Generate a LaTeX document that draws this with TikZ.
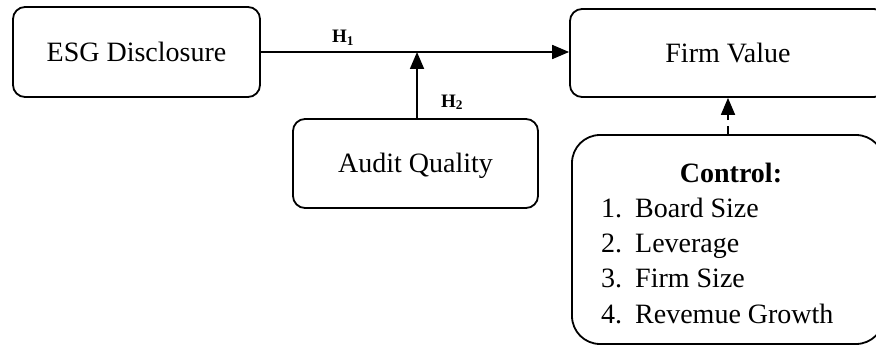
\documentclass[tikz,border=0pt]{standalone}
\usepackage{fontspec}
\setmainfont{Liberation Serif}
\usetikzlibrary{arrows.meta}
\begin{document}
\begin{tikzpicture}[x=1pt,y=-1pt,
  box/.style={draw, line width=1.8pt, rounded corners=12pt, inner sep=0pt},
  lbl/.style={font=\fontsize{28}{36}\selectfont, inner sep=0pt},
  hlbl/.style={font=\fontsize{19}{22}\selectfont\bfseries, inner sep=0pt},
  conn/.style={line width=1.8pt, -{Triangle[length=17pt,width=14pt]}}]
\useasboundingbox (0,0) rectangle (876,345);
\clip (0,0) rectangle (876,345);
\node[box, minimum width=247pt, minimum height=90pt] (esg) at (136.5,52) {};
\node[lbl, anchor=base] (esgt) at (136.5,62) {ESG Disclosure};
\node[box, minimum width=316pt, minimum height=88pt] (fv) at (728,53) {};
\node[lbl, anchor=base] (fvt) at (728,63) {Firm Value};
\node[box, minimum width=245pt, minimum height=89pt] (aq) at (415.5,163.5) {};
\node[lbl, anchor=base] (aqt) at (415.5,172) {Audit Quality};
\node[box, rounded corners=28pt, minimum width=312pt, minimum height=209pt] (ctrl) at (728,239.5) {};
\node[lbl, anchor=base, font=\fontsize{28}{36}\selectfont\bfseries] (ct) at (731,182) {Control:};
\node[lbl, anchor=base west] (c1) at (601,217) {1.\hspace{13pt}Board Size};
\node[lbl, anchor=base west] (c2) at (601,252) {2.\hspace{13pt}Leverage};
\node[lbl, anchor=base west] (c3) at (601,287) {3.\hspace{13pt}Firm Size};
\node[lbl, anchor=base west] (c4) at (601,323) {4.\hspace{13pt}Revemue Growth};
\coordinate (mid) at (417,52);
\draw[conn] (esg.east |- 0,52) -- (fv.west |- 0,52);
\draw[conn] (aq.north -| mid) -- (mid);
\draw[conn, dash pattern=on 8pt off 6pt] (ctrl.north -| 728,0) -- (fv.south -| 728,0);
\node[hlbl, anchor=base] (h1) at (343,43) {H\textsubscript{1}};
\node[hlbl, anchor=base] (h2) at (452,107) {H\textsubscript{2}};
\end{tikzpicture}
\end{document}
